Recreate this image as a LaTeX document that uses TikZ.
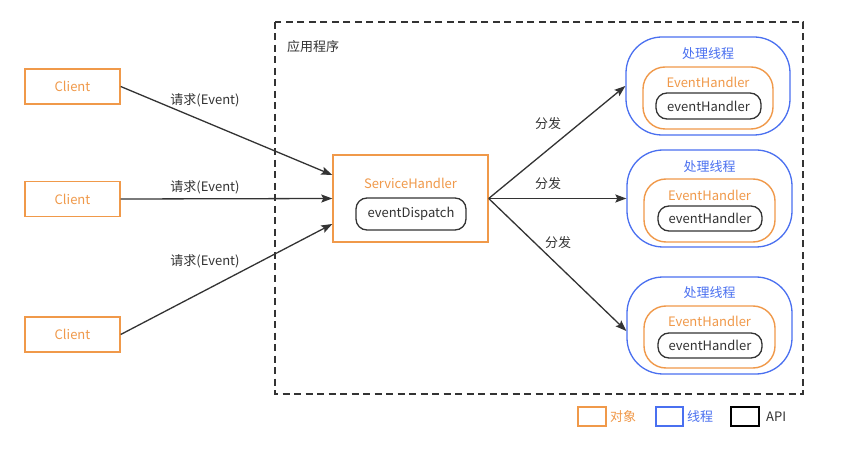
\documentclass[tikz,border=0pt]{standalone}
\usepackage{fontspec}
\setmainfont{Noto Sans CJK SC}
\usetikzlibrary{arrows.meta}
\definecolor{orng}{HTML}{F0994A}
\definecolor{blu}{HTML}{4A70F0}
\definecolor{drk}{HTML}{333333}
\tikzset{
  every node/.style={font=\fontsize{13}{15}\selectfont, inner sep=0pt},
  obj/.style={draw=orng, line width=1.4pt, text=orng, minimum width=95pt, minimum height=35pt},
  thread/.style={draw=blu, line width=1.3pt, rounded corners=36pt},
  handler/.style={draw=orng, line width=1.4pt, rounded corners=22pt},
  api/.style={draw=drk, line width=1.3pt, rounded corners=11pt, text=drk},
  otxt/.style={text=orng},
  btxt/.style={text=blu},
  dtxt/.style={text=drk},
  conn/.style={draw=drk, line width=1.3pt, -{Stealth[length=11pt,width=8pt,inset=2pt]}},
}
\begin{document}
\begin{tikzpicture}[x=1pt,y=-1pt]
\fill[white] (0,0) rectangle (851,462);
\useasboundingbox (0,0) rectangle (851,462);
% container
\draw[drk, line width=1.3pt, dash pattern=on 7pt off 4.5pt] (275,22) rectangle (803,394);
\node[dtxt, anchor=west] (app) at (287,47) {应用程序};
% clients
\node[obj] (c1) at (72.5,86.5) {Client};
\node[obj] (c2) at (72.5,199) {Client};
\node[obj] (c3) at (72.5,334.5) {Client};
% service handler
\node[obj, minimum width=155pt, minimum height=87pt] (sh) at (410.5,198.5) {};
\node[otxt] (shl) at (410.5,183) {ServiceHandler};
\node[api, minimum width=110pt, minimum height=32pt] (ed) at (411,214) {eventDispatch};
% threads
\node[thread, minimum width=164pt, minimum height=98pt] (t1) at (708,86) {};
\node[thread, minimum width=165pt, minimum height=97pt] (t2) at (709.5,198.5) {};
\node[thread, minimum width=165pt, minimum height=97pt] (t3) at (709.5,325.5) {};
\node[btxt] (t1l) at (708,54) {处理线程};
\node[btxt] (t2l) at (709.5,167) {处理线程};
\node[btxt] (t3l) at (709.5,293) {处理线程};
\node[handler, minimum width=130pt, minimum height=62pt] (h1) at (708,98) {};
\node[handler, minimum width=131pt, minimum height=63pt] (h2) at (709.5,210.5) {};
\node[handler, minimum width=131pt, minimum height=62pt] (h3) at (709.5,337) {};
\node[otxt] (h1l) at (708,82) {EventHandler};
\node[otxt] (h2l) at (709.5,195) {EventHandler};
\node[otxt] (h3l) at (709.5,321) {EventHandler};
\node[api, minimum width=105pt, minimum height=26pt] (e1) at (708.5,106) {eventHandler};
\node[api, minimum width=104pt, minimum height=25pt] (e2) at (710,218.5) {eventHandler};
\node[api, minimum width=104pt, minimum height=25pt] (e3) at (710,345.5) {eventHandler};
% connectors
\draw[conn] (c1.east) -- ([yshift=23.5pt]sh.west);
\draw[conn] (c2.east) -- (sh.west);
\draw[conn] (c3.east) -- ([yshift=-25.5pt]sh.west);
\draw[conn] (sh.east) -- (t1.west);
\draw[conn] (sh.east) -- (t2.west);
\draw[conn] (sh.east) -- ([yshift=-5.5pt]t3.west);
% labels
\node[dtxt] (l1) at (205,100) {请求(Event)};
\node[dtxt] (l2) at (205,187) {请求(Event)};
\node[dtxt] (l3) at (205,261) {请求(Event)};
\node[dtxt] (d1) at (548,124) {分发};
\node[dtxt] (d2) at (548,184) {分发};
\node[dtxt] (d3) at (558,243) {分发};
% legend
\node[draw=orng, line width=1.3pt, minimum width=28pt, minimum height=19pt] (lo) at (592,416.5) {};
\node[draw=blu, line width=1.3pt, minimum width=27pt, minimum height=19pt] (lb) at (669.5,416.5) {};
\node[draw=black, line width=1.3pt, minimum width=28pt, minimum height=19pt] (la) at (745,416.5) {};
\node[otxt, anchor=west] (lot) at (610,417) {对象};
\node[btxt, anchor=west] (lbt) at (687,417) {线程};
\node[dtxt, anchor=west] (lat) at (766,417) {API};
\end{tikzpicture}
\end{document}
